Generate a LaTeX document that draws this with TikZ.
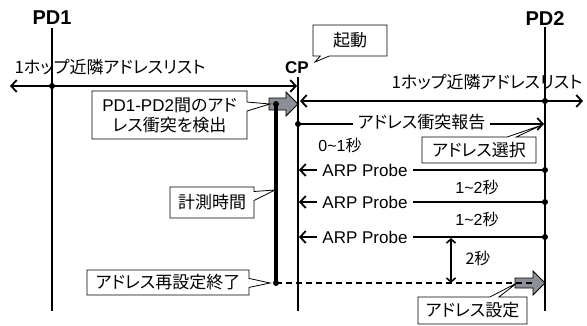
\documentclass[tikz,border=0pt]{standalone}
\usepackage{fontspec}
\setmainfont{Liberation Sans}
\newfontfamily\jp[RawFeature=+palt]{Noto Sans CJK JP}
\usetikzlibrary{arrows.meta,shapes.callouts}
\definecolor{arrowgray}{HTML}{8A9096}
\tikzset{
  life/.style={line width=1.8pt},
  msg/.style={line width=1.8pt},
  >={Straight Barb[length=5.5pt,width=12pt]},
  dotnode/.style={circle,fill=black,inner sep=0pt,minimum size=6pt},
  headlabel/.style={font=\fontsize{20}{22}\selectfont\bfseries,inner sep=0pt},
  cplabel/.style={font=\fontsize{17}{19}\selectfont\bfseries,inner sep=0pt},
  jptext/.style={font=\jp\fontsize{17}{20}\selectfont,inner sep=0pt},
  lattext/.style={font=\fontsize{17}{20}\selectfont,inner sep=0pt},
  smalltext/.style={font=\fontsize{16}{19}\selectfont,inner sep=0pt},
  onwhite/.style={fill=white,inner xsep=5pt,inner ysep=1pt},
  callbox/.style={rectangle callout,draw,fill=white,line width=0.8pt,
    font=\jp\fontsize{17}{20}\selectfont,inner sep=0pt,
    callout pointer width=9pt,align=center},
  grayarrow/.style={draw,fill=arrowgray,line width=0.8pt,line join=miter},
}
\begin{document}
\begin{tikzpicture}[x=1pt,y=-1pt]
\path[use as bounding box] (0,0) rectangle (587,325);

% lifeline heads
\node[headlabel] (pd1) at (52,18) {PD1};
\node[headlabel] (pd2) at (545,19) {PD2};
\node[cplabel] (cp) at (297,67.5) {CP};

% lifeline ends
\coordinate (pd1top) at (52,28);
\coordinate (pd1bot) at (52,311);
\coordinate (cptop) at (298,77);
\coordinate (cpbot) at (298,311);
\coordinate (pd2top) at (545,27);
\coordinate (pd2bot) at (545,311);

\draw[life] (pd1top) -- (pd1bot);
\draw[life] (cptop) -- (cpbot);
\draw[life] (pd2top) -- (pd2bot);

% neighbour lists
\coordinate (llL) at (10,86);
\coordinate (llR) at (297,86);
\coordinate (rlL) at (300,101);
\coordinate (rlR) at (583,101);
\draw[msg,<->] (llL) -- (llR);
\draw[msg,<->] (rlL) -- (rlR);
\node[dotnode] (d1) at (52,86) {};
\node[dotnode] (d2) at (545,101) {};
\node[jptext] (listL) at (110,67) {1ホップ近隣アドレスリスト};
\node[jptext] (listR) at (487,82) {1ホップ近隣アドレスリスト};

% gray arrow at CP (detection)
\path[grayarrow] (269,98) -- (286,98) -- (286,92) -- (298,104) -- (286,116) -- (286,110) -- (269,110) -- cycle;
\coordinate (mtop) at (276,104);
\coordinate (mbot) at (276,283);

% conflict report
\coordinate (repS) at (298,124);
\coordinate (repE) at (544,124);
\draw[msg,->] (repS) -- (repE);
\node[dotnode] (d3) at (repS) {};
\node[jptext,onwhite] (rep) at (421.5,122) {アドレス衝突報告};
\node[smalltext] (t01) at (340,145) {0\textasciitilde 1{\jp 秒}};

% ARP probes
\coordinate (p1S) at (545,170);
\coordinate (p1E) at (299,170);
\coordinate (p2S) at (545,202);
\coordinate (p2E) at (299,202);
\coordinate (p3S) at (545,237);
\coordinate (p3E) at (299,237);
\draw[msg,->] (p1S) -- (p1E);
\draw[msg,->] (p2S) -- (p2E);
\draw[msg,->] (p3S) -- (p3E);
\node[dotnode] (d4) at (p1S) {};
\node[dotnode] (d5) at (p2S) {};
\node[dotnode] (d6) at (p3S) {};
\node[lattext,onwhite] (arp1) at (365,170) {ARP Probe};
\node[lattext,onwhite] (arp2) at (365,202) {ARP Probe};
\node[lattext,onwhite] (arp3) at (365,237) {ARP Probe};
\node[smalltext] (t12a) at (477,187) {1\textasciitilde 2{\jp 秒}};
\node[smalltext] (t12b) at (477,219) {1\textasciitilde 2{\jp 秒}};

% 2 s interval
\coordinate (iv1) at (451,238);
\coordinate (iv2) at (451,283);
\draw[line width=1.6pt,<->,>={Straight Barb[length=4pt,width=9pt]}] (iv1) -- (iv2);
\node[smalltext] (t2) at (478,258) {{\jp 2秒}};

% gray arrow at PD2 (address set)
\path[grayarrow] (515,278) -- (533,278) -- (533,271) -- (545,283) -- (533,295) -- (533,288) -- (515,288) -- cycle;

% dashed line
\coordinate (dashE) at (534,283);
\draw[line width=1.8pt,dash pattern=on 6pt off 4pt] (mbot) -- (dashE);

% measurement line
\draw[line width=3.5pt] (mtop) -- (mbot);
\node[dotnode] (d7) at (mtop) {};
\node[dotnode] (d8) at (mbot) {};

% callouts
\node[callbox,minimum width=74pt,minimum height=31pt,
  callout absolute pointer={(315,62)}] (kido) at (350,40.5) {起動};
\node[callbox,minimum width=155pt,minimum height=48pt,
  callout absolute pointer={(270,104)}] (detect) at (169.5,115)
  {{\fontspec{Liberation Sans}PD1-PD2}間のアド\\レス衝突を検出};
\node[callbox,minimum width=84pt,minimum height=31pt,
  callout absolute pointer={(275,190)}] (keisoku) at (212,202.5) {計測時間};
\node[callbox,minimum width=162pt,minimum height=25pt,
  callout absolute pointer={(270,283)}] (saisettei) at (168,282.5) {アドレス再設定終了};
\node[callbox,minimum width=114pt,minimum height=26pt,
  callout absolute pointer={(542,125)}] (sentaku) at (479,150) {アドレス選択};
\node[callbox,minimum width=109pt,minimum height=27pt,
  callout absolute pointer={(517,283)}] (settei) at (472.5,310.5) {アドレス設定};
\end{tikzpicture}
\end{document}
